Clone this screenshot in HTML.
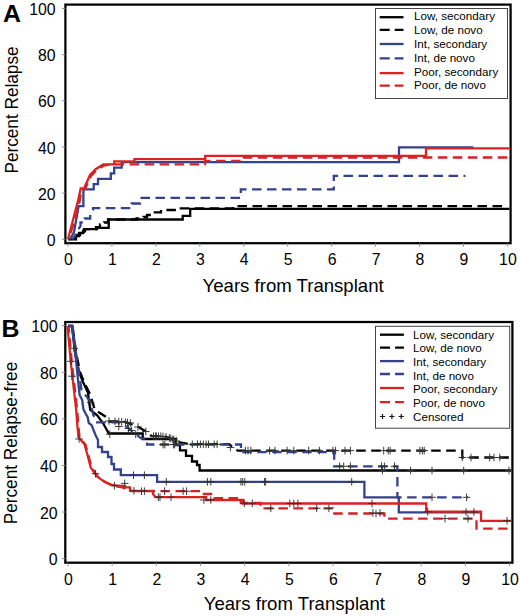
<!DOCTYPE html>
<html><head><meta charset="utf-8"><style>
html,body{margin:0;padding:0;background:#fff;}
svg{display:block;font-family:"Liberation Sans", sans-serif;}
</style></head><body>
<svg width="520" height="616" viewBox="0 0 520 616">
<rect width="520" height="616" fill="#fff"/>
<rect x="65.4" y="4.6" width="445.20" height="238.60" fill="none" stroke="#000" stroke-width="2.25"/>
<line x1="61.90" y1="239.30" x2="65.40" y2="239.30" stroke="#888" stroke-width="0.9"/>
<text transform="translate(55.60,245.90) scale(0.99,1)" x="0" y="0" font-size="16" text-anchor="end" font-weight="normal" fill="#000" >0</text>
<line x1="61.90" y1="193.14" x2="65.40" y2="193.14" stroke="#888" stroke-width="0.9"/>
<text transform="translate(55.60,199.74) scale(0.99,1)" x="0" y="0" font-size="16" text-anchor="end" font-weight="normal" fill="#000" >20</text>
<line x1="61.90" y1="146.98" x2="65.40" y2="146.98" stroke="#888" stroke-width="0.9"/>
<text transform="translate(55.60,153.58) scale(0.99,1)" x="0" y="0" font-size="16" text-anchor="end" font-weight="normal" fill="#000" >40</text>
<line x1="61.90" y1="100.82" x2="65.40" y2="100.82" stroke="#888" stroke-width="0.9"/>
<text transform="translate(55.60,107.42) scale(0.99,1)" x="0" y="0" font-size="16" text-anchor="end" font-weight="normal" fill="#000" >60</text>
<line x1="61.90" y1="54.66" x2="65.40" y2="54.66" stroke="#888" stroke-width="0.9"/>
<text transform="translate(55.60,61.26) scale(0.99,1)" x="0" y="0" font-size="16" text-anchor="end" font-weight="normal" fill="#000" >80</text>
<line x1="61.90" y1="8.50" x2="65.40" y2="8.50" stroke="#888" stroke-width="0.9"/>
<text transform="translate(55.60,15.10) scale(0.99,1)" x="0" y="0" font-size="16" text-anchor="end" font-weight="normal" fill="#000" >100</text>
<line x1="68.00" y1="243.20" x2="68.00" y2="246.70" stroke="#888" stroke-width="0.9"/>
<text transform="translate(68.50,265.40) scale(0.99,1)" x="0" y="0" font-size="16" text-anchor="middle" font-weight="normal" fill="#000" >0</text>
<line x1="111.94" y1="243.20" x2="111.94" y2="246.70" stroke="#888" stroke-width="0.9"/>
<text transform="translate(112.44,265.40) scale(0.99,1)" x="0" y="0" font-size="16" text-anchor="middle" font-weight="normal" fill="#000" >1</text>
<line x1="155.88" y1="243.20" x2="155.88" y2="246.70" stroke="#888" stroke-width="0.9"/>
<text transform="translate(156.38,265.40) scale(0.99,1)" x="0" y="0" font-size="16" text-anchor="middle" font-weight="normal" fill="#000" >2</text>
<line x1="199.82" y1="243.20" x2="199.82" y2="246.70" stroke="#888" stroke-width="0.9"/>
<text transform="translate(200.32,265.40) scale(0.99,1)" x="0" y="0" font-size="16" text-anchor="middle" font-weight="normal" fill="#000" >3</text>
<line x1="243.76" y1="243.20" x2="243.76" y2="246.70" stroke="#888" stroke-width="0.9"/>
<text transform="translate(244.26,265.40) scale(0.99,1)" x="0" y="0" font-size="16" text-anchor="middle" font-weight="normal" fill="#000" >4</text>
<line x1="287.70" y1="243.20" x2="287.70" y2="246.70" stroke="#888" stroke-width="0.9"/>
<text transform="translate(288.20,265.40) scale(0.99,1)" x="0" y="0" font-size="16" text-anchor="middle" font-weight="normal" fill="#000" >5</text>
<line x1="331.64" y1="243.20" x2="331.64" y2="246.70" stroke="#888" stroke-width="0.9"/>
<text transform="translate(332.14,265.40) scale(0.99,1)" x="0" y="0" font-size="16" text-anchor="middle" font-weight="normal" fill="#000" >6</text>
<line x1="375.58" y1="243.20" x2="375.58" y2="246.70" stroke="#888" stroke-width="0.9"/>
<text transform="translate(376.08,265.40) scale(0.99,1)" x="0" y="0" font-size="16" text-anchor="middle" font-weight="normal" fill="#000" >7</text>
<line x1="419.52" y1="243.20" x2="419.52" y2="246.70" stroke="#888" stroke-width="0.9"/>
<text transform="translate(420.02,265.40) scale(0.99,1)" x="0" y="0" font-size="16" text-anchor="middle" font-weight="normal" fill="#000" >8</text>
<line x1="463.46" y1="243.20" x2="463.46" y2="246.70" stroke="#888" stroke-width="0.9"/>
<text transform="translate(463.96,265.40) scale(0.99,1)" x="0" y="0" font-size="16" text-anchor="middle" font-weight="normal" fill="#000" >9</text>
<line x1="507.40" y1="243.20" x2="507.40" y2="246.70" stroke="#888" stroke-width="0.9"/>
<text transform="translate(507.90,265.40) scale(0.99,1)" x="0" y="0" font-size="16" text-anchor="middle" font-weight="normal" fill="#000" >10</text>
<text transform="translate(2.90,21.50) scale(1.06,1)" x="0" y="0" font-size="23.5" text-anchor="start" font-weight="bold" fill="#000" >A</text>
<text transform="translate(18.30,110.00) rotate(-90) scale(1,1.06)" x="0" y="0" font-size="17.2" text-anchor="middle">Percent Relapse</text>
<text transform="translate(293.10,291.90) scale(1.063,1)" x="0" y="0" font-size="17.5" text-anchor="middle" font-weight="normal" fill="#000" >Years from Transplant</text>
<rect x="65.3" y="322" width="447.10" height="240.70" fill="none" stroke="#000" stroke-width="2.25"/>
<line x1="61.80" y1="558.60" x2="65.30" y2="558.60" stroke="#888" stroke-width="0.9"/>
<text transform="translate(57.60,565.20) scale(0.99,1)" x="0" y="0" font-size="16" text-anchor="end" font-weight="normal" fill="#000" >0</text>
<line x1="61.80" y1="512.00" x2="65.30" y2="512.00" stroke="#888" stroke-width="0.9"/>
<text transform="translate(57.60,518.60) scale(0.99,1)" x="0" y="0" font-size="16" text-anchor="end" font-weight="normal" fill="#000" >20</text>
<line x1="61.80" y1="465.40" x2="65.30" y2="465.40" stroke="#888" stroke-width="0.9"/>
<text transform="translate(57.60,472.00) scale(0.99,1)" x="0" y="0" font-size="16" text-anchor="end" font-weight="normal" fill="#000" >40</text>
<line x1="61.80" y1="418.80" x2="65.30" y2="418.80" stroke="#888" stroke-width="0.9"/>
<text transform="translate(57.60,425.40) scale(0.99,1)" x="0" y="0" font-size="16" text-anchor="end" font-weight="normal" fill="#000" >60</text>
<line x1="61.80" y1="372.20" x2="65.30" y2="372.20" stroke="#888" stroke-width="0.9"/>
<text transform="translate(57.60,378.80) scale(0.99,1)" x="0" y="0" font-size="16" text-anchor="end" font-weight="normal" fill="#000" >80</text>
<line x1="61.80" y1="325.60" x2="65.30" y2="325.60" stroke="#888" stroke-width="0.9"/>
<text transform="translate(57.60,332.20) scale(0.99,1)" x="0" y="0" font-size="16" text-anchor="end" font-weight="normal" fill="#000" >100</text>
<line x1="68.00" y1="562.70" x2="68.00" y2="566.20" stroke="#888" stroke-width="0.9"/>
<text transform="translate(68.50,585.20) scale(0.99,1)" x="0" y="0" font-size="16" text-anchor="middle" font-weight="normal" fill="#000" >0</text>
<line x1="112.16" y1="562.70" x2="112.16" y2="566.20" stroke="#888" stroke-width="0.9"/>
<text transform="translate(112.66,585.20) scale(0.99,1)" x="0" y="0" font-size="16" text-anchor="middle" font-weight="normal" fill="#000" >1</text>
<line x1="156.32" y1="562.70" x2="156.32" y2="566.20" stroke="#888" stroke-width="0.9"/>
<text transform="translate(156.82,585.20) scale(0.99,1)" x="0" y="0" font-size="16" text-anchor="middle" font-weight="normal" fill="#000" >2</text>
<line x1="200.48" y1="562.70" x2="200.48" y2="566.20" stroke="#888" stroke-width="0.9"/>
<text transform="translate(200.98,585.20) scale(0.99,1)" x="0" y="0" font-size="16" text-anchor="middle" font-weight="normal" fill="#000" >3</text>
<line x1="244.64" y1="562.70" x2="244.64" y2="566.20" stroke="#888" stroke-width="0.9"/>
<text transform="translate(245.14,585.20) scale(0.99,1)" x="0" y="0" font-size="16" text-anchor="middle" font-weight="normal" fill="#000" >4</text>
<line x1="288.80" y1="562.70" x2="288.80" y2="566.20" stroke="#888" stroke-width="0.9"/>
<text transform="translate(289.30,585.20) scale(0.99,1)" x="0" y="0" font-size="16" text-anchor="middle" font-weight="normal" fill="#000" >5</text>
<line x1="332.96" y1="562.70" x2="332.96" y2="566.20" stroke="#888" stroke-width="0.9"/>
<text transform="translate(333.46,585.20) scale(0.99,1)" x="0" y="0" font-size="16" text-anchor="middle" font-weight="normal" fill="#000" >6</text>
<line x1="377.12" y1="562.70" x2="377.12" y2="566.20" stroke="#888" stroke-width="0.9"/>
<text transform="translate(377.62,585.20) scale(0.99,1)" x="0" y="0" font-size="16" text-anchor="middle" font-weight="normal" fill="#000" >7</text>
<line x1="421.28" y1="562.70" x2="421.28" y2="566.20" stroke="#888" stroke-width="0.9"/>
<text transform="translate(421.78,585.20) scale(0.99,1)" x="0" y="0" font-size="16" text-anchor="middle" font-weight="normal" fill="#000" >8</text>
<line x1="465.44" y1="562.70" x2="465.44" y2="566.20" stroke="#888" stroke-width="0.9"/>
<text transform="translate(465.94,585.20) scale(0.99,1)" x="0" y="0" font-size="16" text-anchor="middle" font-weight="normal" fill="#000" >9</text>
<line x1="509.60" y1="562.70" x2="509.60" y2="566.20" stroke="#888" stroke-width="0.9"/>
<text transform="translate(510.10,585.20) scale(0.99,1)" x="0" y="0" font-size="16" text-anchor="middle" font-weight="normal" fill="#000" >10</text>
<text transform="translate(1.50,336.50) scale(1.06,1)" x="0" y="0" font-size="23.5" text-anchor="start" font-weight="bold" fill="#000" >B</text>
<text transform="translate(17.00,443.00) rotate(-90) scale(1,1.06)" x="0" y="0" font-size="17.2" text-anchor="middle">Percent Relapse-free</text>
<text transform="translate(294.30,609.60) scale(1.063,1)" x="0" y="0" font-size="17.5" text-anchor="middle" font-weight="normal" fill="#000" >Years from Transplant</text>
<path d="M68 239.3 H75 V236 H79 V233 H83 V231 H85 V229.2 H97 V227.8 H108.7 V219.5 H182.7 V215.8 H190.2 V208.9 H509.5" fill="none" stroke="#000" stroke-width="2.3" stroke-linejoin="miter"/>
<path d="M69.5 239.3 H76 V235 H80 V232 H84 V229.2 H96 V227.2 H100 V224.5 H104 V222.5 H108 V219.5 H136.5 V218.3 H143.5 V217 H147 V215 H152 V212.3 H161 V210 H176 V208.3 H233 V206.1 H503.5" fill="none" stroke="#000" stroke-width="2.3" stroke-linejoin="miter" stroke-dasharray="9.5 5.5" stroke-dashoffset="8.80"/>
<path d="M72 239.3 L75 236 L78 230 L80.5 226 V222.5 H84.8 V218.5 H90.2 V214 L93 210 V208.1 H131.5 V203.5 H140 V197.8 H240.8 V189.3 H333.8 V175.8 H465.5" fill="none" stroke="#33428a" stroke-width="2.3" stroke-linejoin="miter" stroke-dasharray="9.5 5.5" stroke-dashoffset="2.83"/>
<path d="M70 239.3 L74 232 L78.6 206.2 H83.4 V189.4 H93.7 V184.1 H98 V178.8 H110.8 V173.4 H114.2 V167.7 H121.7 V162.1 H399 V147.3 H473.3" fill="none" stroke="#33428a" stroke-width="2.3" stroke-linejoin="miter"/>
<path d="M68.8 239.3 L79 205 L81.5 189.5 L85 189 L91 176 L96.6 170.2 L104 165.5 L112 164.3 H205 V160.8 H240.8 V157.5 H508" fill="none" stroke="#d42226" stroke-width="2.3" stroke-linejoin="miter" stroke-dasharray="9.5 5.5" stroke-dashoffset="8.14"/>
<path d="M68 239.3 L78.2 200 L80.7 188.5 H84 L90 175 L95.6 169.2 L103.3 164.4 H114.2 V161.3 H134.4 V159.2 H205.2 V155.8 H426 V148.3 H509.5" fill="none" stroke="#da2320" stroke-width="2.3" stroke-linejoin="miter"/>
<path d="M68 326 H72 L75 352 L79 372 L83 382 L88 392.7 L88.8 400 L90.3 410 L97.2 415.4 L103.4 423.8 L108.8 433.5 H142.7 V439 H176.1 V445 H180 V450.4 H186 V455.8 H192 V461.5 H197 V465 H199.6 V470.5 H511" fill="none" stroke="#000" stroke-width="2.3" stroke-linejoin="miter"/>
<path d="M68.5 326 H72.5 L76 352 L80 372 L84.5 383 L90 394 L94.9 410 L99.5 412.7 L107.2 417.7 L108.8 421.5 H123 L136.9 426 L147.3 432.3 L151.9 436.2 H164.6 L178.4 442.1 L190 444.2 H229 L237.7 450.6 H462.3 V457.5 H510" fill="none" stroke="#000" stroke-width="2.3" stroke-linejoin="miter" stroke-dasharray="9.5 5.5" stroke-dashoffset="10.02"/>
<path d="M68 326 H72.5 L77 360 L81.5 390 L90.3 401.5 L93.4 415.4 L97.2 420.8 V422.3 H119.6 L128.8 428.4 L141.5 438.6 H147 V444.5 H241 V452.2 H334.2 V466.3 H397.4 V497.3 H468.1" fill="none" stroke="#33428a" stroke-width="2.3" stroke-linejoin="miter" stroke-dasharray="9.5 5.5"/>
<path d="M68 326 H72 L76 360 L79.6 395 L82.2 400 L83.4 409.2 L85.7 413.8 L87.6 417 L88.8 423 L91.8 425.4 L93.8 430.8 L95.7 435.4 L98 440 V447 H102 V452 H108 V457 H111.5 V464 H114 V469.5 H120.8 V475.2 H157.1 V481.8 H364.4 V497.3 H398.8 V512.3 H481" fill="none" stroke="#33428a" stroke-width="2.3" stroke-linejoin="miter"/>
<path d="M68.5 326 L72 364 L77.2 410 L78.3 425 L79.5 437.2 L85.6 445 L89.2 458.3 L91.7 468 L97.8 476.6 L105 482 L113 486 L121 487 L132 491.2 H203.9 V494 H214.3 V498.2 H240.8 V503 H260.5 V508.3 H332.9 V513.5 H384.4 V518.6 H476.5 V528.6 H509.7" fill="none" stroke="#d42226" stroke-width="2.3" stroke-linejoin="miter" stroke-dasharray="9.5 5.5" stroke-dashoffset="2.72"/>
<path d="M67.5 326 L71 364 L76.2 410 L77.3 425 L78.5 437.2 L84.6 444.5 L88.2 457.8 L90.7 467.6 L96.8 476.1 L104 481.6 L112.6 485.2 L121 485.8 H125 V487.3 H130 V490.8 H153 V494 L155.4 497.2 H206.2 V500 H243 V503.5 H426.2 V511.7 H481 V520.8 H511" fill="none" stroke="#da2320" stroke-width="2.3" stroke-linejoin="miter"/>
<path d="M70.4 348.3H78.0M74.2 344.5V352.1M67.2 361.3H74.8M71.0 357.5V365.1M68.2 376.2H75.8M72.0 372.4V380.0M87.0 402.6H94.6M90.8 398.8V406.4M75.3 439.0H82.9M79.1 435.2V442.8M91.7 473.7H99.3M95.5 469.9V477.5M110.6 485.8H118.2M114.4 482.0V489.6M120.9 483.4H128.5M124.7 479.6V487.2M106.0 434.2H113.6M109.8 430.4V438.0M131.9 434.2H139.5M135.7 430.4V438.0M105.2 421.0H112.8M109.0 417.2V424.8M111.2 421.5H118.8M115.0 417.7V425.3M115.0 421.5H122.6M118.8 417.7V425.3M117.9 421.8H125.5M121.7 418.0V425.6M121.8 422.2H129.4M125.6 418.4V426.0M123.7 422.5H131.3M127.5 418.7V426.3M126.6 423.0H134.2M130.4 419.2V426.8M115.0 426.5H122.6M118.8 422.7V430.3M124.7 428.5H132.3M128.5 424.7V432.3M127.5 430.5H135.1M131.3 426.7V434.3M134.2 427.0H141.8M138.0 423.2V430.8M142.0 431.5H149.6M145.8 427.7V435.3M149.7 436.2H157.3M153.5 432.4V440.0M152.5 436.2H160.1M156.3 432.4V440.0M159.2 436.5H166.8M163.0 432.7V440.3M162.2 436.8H169.8M166.0 433.0V440.6M167.0 438.5H174.6M170.8 434.7V442.3M169.9 439.5H177.5M173.7 435.7V443.3M172.7 441.0H180.3M176.5 437.2V444.8M159.2 444.5H166.8M163.0 440.7V448.3M170.8 444.5H178.4M174.6 440.7V448.3M151.8 436.2H159.4M155.6 432.4V440.0M154.7 436.2H162.3M158.5 432.4V440.0M157.0 436.2H164.6M160.8 432.4V440.0M165.6 437.9H173.2M169.4 434.1V441.7M169.1 439.6H176.7M172.9 435.8V443.4M161.0 444.6H168.6M164.8 440.8V448.4M169.6 444.6H177.2M173.4 440.8V448.4M188.5 444.3H196.1M192.3 440.5V448.1M193.7 444.3H201.3M197.5 440.5V448.1M196.6 444.3H204.2M200.4 440.5V448.1M199.5 444.3H207.1M203.3 440.5V448.1M202.3 444.3H209.9M206.1 440.5V448.1M204.7 444.3H212.3M208.5 440.5V448.1M210.4 444.3H218.0M214.2 440.5V448.1M213.3 444.3H220.9M217.1 440.5V448.1M226.6 447.5H234.2M230.4 443.7V451.3M241.6 450.6H249.2M245.4 446.8V454.4M129.7 475.2H137.3M133.5 471.4V479.0M140.6 475.2H148.2M144.4 471.4V479.0M162.5 481.8H170.1M166.3 478.0V485.6M203.6 481.8H211.2M207.4 478.0V485.6M207.0 481.8H214.6M210.8 478.0V485.6M237.1 481.8H244.7M240.9 478.0V485.6M241.0 481.8H248.6M244.8 478.0V485.6M260.8 481.8H268.4M264.6 478.0V485.6M130.2 490.8H137.8M134.0 487.0V494.6M137.7 491.2H145.3M141.5 487.4V495.0M140.6 491.2H148.2M144.4 487.4V495.0M154.5 497.2H162.1M158.3 493.4V501.0M156.2 497.2H163.8M160.0 493.4V501.0M160.8 491.2H168.4M164.6 487.4V495.0M167.2 497.2H174.8M171.0 493.4V501.0M179.3 491.2H186.9M183.1 487.4V495.0M182.8 491.2H190.4M186.6 487.4V495.0M200.1 500.0H207.7M203.9 496.2V503.8M207.0 500.0H214.6M210.8 496.2V503.8M240.5 503.3H248.1M244.3 499.5V507.1M248.5 503.3H256.1M252.3 499.5V507.1M267.0 508.3H274.6M270.8 504.5V512.1M244.2 450.6H251.8M248.0 446.8V454.4M247.0 450.6H254.6M250.8 446.8V454.4M265.8 450.6H273.4M269.6 446.8V454.4M271.2 450.6H278.8M275.0 446.8V454.4M283.3 450.6H290.9M287.1 446.8V454.4M290.0 450.6H297.6M293.8 446.8V454.4M304.9 450.6H312.5M308.7 446.8V454.4M315.6 450.6H323.2M319.4 446.8V454.4M329.1 450.6H336.7M332.9 446.8V454.4M331.8 450.6H339.4M335.6 446.8V454.4M341.2 450.6H348.8M345.0 446.8V454.4M346.6 450.6H354.2M350.4 446.8V454.4M335.8 466.3H343.4M339.6 462.5V470.1M339.9 466.3H347.5M343.7 462.5V470.1M346.6 466.3H354.2M350.4 462.5V470.1M238.9 481.8H246.5M242.7 478.0V485.6M261.8 481.8H269.4M265.6 478.0V485.6M347.9 481.8H355.5M351.7 478.0V485.6M286.0 503.5H293.6M289.8 499.7V507.3M290.0 503.5H297.6M293.8 499.7V507.3M294.1 503.5H301.7M297.9 499.7V507.3M312.9 508.3H320.5M316.7 504.5V512.1M325.1 508.3H332.7M328.9 504.5V512.1M368.2 503.5H375.8M372.0 499.7V507.3M372.2 513.5H379.8M376.0 509.7V517.3M379.9 450.6H387.5M383.7 446.8V454.4M384.4 450.6H392.0M388.2 446.8V454.4M386.3 450.6H393.9M390.1 446.8V454.4M416.1 450.6H423.7M419.9 446.8V454.4M418.5 450.6H426.1M422.3 446.8V454.4M420.4 450.6H428.0M424.2 446.8V454.4M458.5 457.5H466.1M462.3 453.7V461.3M467.2 457.5H474.8M471.0 453.7V461.3M485.9 457.5H493.5M489.7 453.7V461.3M490.2 457.5H497.8M494.0 453.7V461.3M496.0 457.5H503.6M499.8 453.7V461.3M377.7 466.3H385.3M381.5 462.5V470.1M380.6 466.3H388.2M384.4 462.5V470.1M390.7 466.3H398.3M394.5 462.5V470.1M428.2 497.3H435.8M432.0 493.5V501.1M462.8 497.3H470.4M466.6 493.5V501.1M378.6 470.5H386.2M382.4 466.7V474.3M406.8 470.5H414.4M410.6 466.7V474.3M428.2 470.5H435.8M432.0 466.7V474.3M459.9 470.5H467.5M463.7 466.7V474.3M505.2 470.5H512.8M509.0 466.7V474.3M423.9 511.7H431.5M427.7 507.9V515.5M462.2 512.0H469.8M466.0 508.2V515.8M470.1 512.0H477.7M473.9 508.2V515.8M441.2 518.6H448.8M445.0 514.8V522.4M464.2 518.6H471.8M468.0 514.8V522.4M369.1 512.9H376.7M372.9 509.1V516.7M376.2 512.9H383.8M380.0 509.1V516.7M503.2 520.8H510.8M507.0 517.0V524.6" stroke="#333" stroke-width="0.95" fill="none"/>
<rect x="375.5" y="8.5" width="132.00" height="90.00" fill="#fff" stroke="#444" stroke-width="1"/>
<path d="M379.7 17.2H403.5" stroke="#000" stroke-width="2.3" fill="none"/>
<path d="M379.7 29.8H389.7M394.7 29.8H403.5" stroke="#000" stroke-width="2.3" fill="none"/>
<path d="M379.7 44H403.5" stroke="#33428a" stroke-width="2.3" fill="none"/>
<path d="M379.7 58.4H389.7M394.7 58.4H403.5" stroke="#33428a" stroke-width="2.3" fill="none"/>
<path d="M379.7 73.1H403.5" stroke="#da2320" stroke-width="2.3" fill="none"/>
<path d="M379.7 85.7H389.7M394.7 85.7H403.5" stroke="#d42226" stroke-width="2.3" fill="none"/>
<text transform="translate(414.00,20.40) scale(1.06,1)" x="0" y="0" font-size="11" text-anchor="start" font-weight="normal" fill="#000" >Low, secondary</text>
<text transform="translate(414.00,34.20) scale(1.06,1)" x="0" y="0" font-size="11" text-anchor="start" font-weight="normal" fill="#000" >Low, de novo</text>
<text transform="translate(414.00,48.00) scale(1.06,1)" x="0" y="0" font-size="11" text-anchor="start" font-weight="normal" fill="#000" >Int, secondary</text>
<text transform="translate(414.00,61.80) scale(1.06,1)" x="0" y="0" font-size="11" text-anchor="start" font-weight="normal" fill="#000" >Int, de novo</text>
<text transform="translate(414.00,75.60) scale(1.06,1)" x="0" y="0" font-size="11" text-anchor="start" font-weight="normal" fill="#000" >Poor, secondary</text>
<text transform="translate(414.00,89.40) scale(1.06,1)" x="0" y="0" font-size="11" text-anchor="start" font-weight="normal" fill="#000" >Poor, de novo</text>
<rect x="375.5" y="326.3" width="134.20" height="101.90" fill="#fff" stroke="#444" stroke-width="1"/>
<path d="M380 334.7H403.9" stroke="#000" stroke-width="2.3" fill="none"/>
<path d="M380 347.7H390M395.09999999999997 347.7H403.9" stroke="#000" stroke-width="2.3" fill="none"/>
<path d="M380 361.1H403.9" stroke="#33428a" stroke-width="2.3" fill="none"/>
<path d="M380 374H390M395.09999999999997 374H403.9" stroke="#33428a" stroke-width="2.3" fill="none"/>
<path d="M380 388H403.9" stroke="#da2320" stroke-width="2.3" fill="none"/>
<path d="M380 402.2H390M395.09999999999997 402.2H403.9" stroke="#d42226" stroke-width="2.3" fill="none"/>
<text transform="translate(413.00,338.50) scale(1.06,1)" x="0" y="0" font-size="11" text-anchor="start" font-weight="normal" fill="#000" >Low, secondary</text>
<text transform="translate(413.00,352.17) scale(1.06,1)" x="0" y="0" font-size="11" text-anchor="start" font-weight="normal" fill="#000" >Low, de novo</text>
<text transform="translate(413.00,365.84) scale(1.06,1)" x="0" y="0" font-size="11" text-anchor="start" font-weight="normal" fill="#000" >Int, secondary</text>
<text transform="translate(413.00,379.51) scale(1.06,1)" x="0" y="0" font-size="11" text-anchor="start" font-weight="normal" fill="#000" >Int, de novo</text>
<text transform="translate(413.00,393.18) scale(1.06,1)" x="0" y="0" font-size="11" text-anchor="start" font-weight="normal" fill="#000" >Poor, secondary</text>
<text transform="translate(413.00,406.85) scale(1.06,1)" x="0" y="0" font-size="11" text-anchor="start" font-weight="normal" fill="#000" >Poor, de novo</text>
<text transform="translate(413.00,420.52) scale(1.06,1)" x="0" y="0" font-size="11" text-anchor="start" font-weight="normal" fill="#000" >Censored</text>
<path d="M379.9 416.5H385.1M382.5 413.9V419.1M389.3 416.5H394.5M391.9 413.9V419.1M398.6 416.5H403.9M401.2 413.9V419.1" stroke="#1a1a1a" stroke-width="1.2" fill="none"/>
</svg></body></html>
